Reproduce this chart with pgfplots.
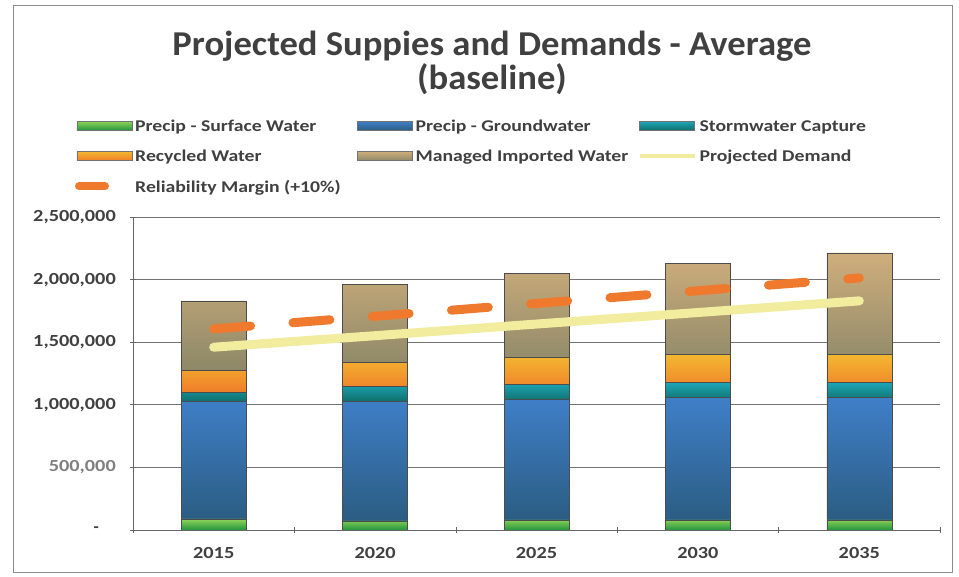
\documentclass[border=0pt]{standalone}
\usepackage{pgfplots}
\pgfplotsset{compat=1.18}
\usepackage{fontspec}
\setmainfont{Carlito}

\definecolor{txt}{HTML}{404040}
\definecolor{grnT}{HTML}{8FD35A}\definecolor{grnB}{HTML}{22953C}
\definecolor{bluT}{HTML}{3F7FC8}\definecolor{bluB}{HTML}{2B5D82}
\definecolor{tealT}{HTML}{1EA6B8}\definecolor{tealB}{HTML}{0E6E6A}
\definecolor{orgT}{HTML}{F3B830}\definecolor{orgB}{HTML}{EF7D2A}
\definecolor{tanT}{HTML}{CFAE7C}\definecolor{tanB}{HTML}{8C8868}
\definecolor{demand}{HTML}{F1EC9E}
\definecolor{margin}{HTML}{EF7A2E}

\pgfplotsset{
  barleg/.style={legend image code/.code={
    \draw[##1, draw=black!55, line width=0.4bp] (0bp,-4.5bp) rectangle (55bp,4.5bp);}},
}
\newcommand{\legtext}[1]{\makebox[222bp][l]{\strut\scalebox{1.2}[1]{#1}}}
\newcommand{\yl}[1]{\scalebox{1.2}[1]{#1}}

\begin{document}
\begin{tikzpicture}
\path[use as bounding box] (0,0) rectangle (959bp,577bp);
\draw[black!45, line width=0.8bp] (13bp,5bp) rectangle (952bp,572bp);

\node[font=\fontsize{35}{34}\selectfont\bfseries, text=txt, anchor=base]
  at (492bp,521bp) {\scalebox{1.05}[1]{Projected Suppies and Demands - Average}};
\node[font=\fontsize{35}{34}\selectfont\bfseries, text=txt, anchor=base]
  at (492bp,487bp) {\scalebox{1.05}[1]{(baseline)}};

\begin{axis}[
  at={(133bp,47bp)}, anchor=south west,
  scale only axis, width=807bp, height=313bp,
  ybar stacked, bar width=65bp,
  xmin=-0.5, xmax=4.5, ymin=0, ymax=2500000,
  xtick={0,1,2,3,4},
  xticklabels={\yl{2015},\yl{2020},\yl{2025},\yl{2030},\yl{2035}},
  minor xtick={-0.5,0.5,1.5,2.5,3.5,4.5},
  major x tick style={draw=none},
  ytick={0,500000,1000000,1500000,2000000,2500000},
  yticklabels={{-\kern17bp},{\textcolor{black!50}{\yl{500,000}}},{\yl{1,000,000}},{\yl{1,500,000}},{\yl{2,000,000}},{\yl{2,500,000}}},
  scaled y ticks=false,
  tick align=outside,
  major tick length=6bp, minor tick length=6bp,
  tick style={black!60, line width=0.6bp},
  axis lines=left, axis line style={-, black!60, line width=0.6bp},
  ymajorgrids, grid style={black!55, line width=0.6bp},
  ticklabel style={font=\fontsize{17}{20}\selectfont\bfseries, text=txt, inner sep=0pt},
  xticklabel style={yshift=-14bp},
  yticklabel style={xshift=-14bp},
  legend columns=3,
  legend cell align=left,
  legend style={at={(-0.0719,1.315)}, anchor=north west, draw=none, fill=none,
    inner sep=0pt, outer sep=0pt, row sep=15.5bp, column sep=0pt,
    font=\fontsize{16.5}{19}\selectfont\bfseries, text=txt,
    nodes={inner sep=0pt, anchor=west},
    /tikz/every odd column/.append style={column sep=3bp}},
]
\addplot[barleg, draw=black!70, line width=0.6bp, top color=grnT, bottom color=grnB]
  coordinates {(0,88000) (1,72000) (2,80000) (3,80000) (4,80000)};
\addlegendentry{\legtext{Precip - Surface Water}}
\addplot[barleg, draw=black!70, line width=0.6bp, top color=bluT, bottom color=bluB]
  coordinates {(0,936000) (1,952000) (2,960000) (3,976000) (4,976000)};
\addlegendentry{\legtext{Precip - Groundwater}}
\addplot[barleg, draw=black!70, line width=0.6bp, top color=tealT, bottom color=tealB]
  coordinates {(0,73000) (1,121000) (2,120000) (3,124000) (4,124000)};
\addlegendentry{\legtext{Stormwater Capture}}
\addplot[barleg, draw=black!70, line width=0.6bp, top color=orgT, bottom color=orgB]
  coordinates {(0,177000) (1,195000) (2,220000) (3,220000) (4,224000)};
\addlegendentry{\legtext{Recycled Water}}
\addplot[barleg, draw=black!70, line width=0.6bp, top color=tanT, bottom color=tanB]
  coordinates {(0,556000) (1,620000) (2,670000) (3,730000) (4,810000)};
\addlegendentry{\legtext{Managed Imported Water}}
\addlegendimage{legend image code/.code={\draw[demand, line width=4bp] (0bp,0bp) -- (55bp,0bp);}}
\addlegendentry{\legtext{Projected Demand}}
\addlegendimage{legend image code/.code={\path[draw=none] (0bp,0bp) -- (55bp,0bp);
  \draw[margin, line width=8bp, line cap=round] (2bp,0bp) -- (28bp,0bp);}}
\addlegendentry{\legtext{Reliability Margin (+10\%)}}
\end{axis}

\begin{axis}[
  at={(133bp,47bp)}, anchor=south west,
  scale only axis, width=807bp, height=313bp,
  xmin=-0.5, xmax=4.5, ymin=0, ymax=2500000,
  hide axis, clip=false,
]
\addplot[demand, line width=9bp, line cap=round, no marks]
  coordinates {(0,1460000) (1,1552000) (2,1645000) (3,1737000) (4,1830000)};
\addplot[margin, line width=9bp, line cap=round, no marks, dash pattern=on 37bp off 42.5bp]
  coordinates {(0,1606000) (1,1707200) (2,1809500) (3,1910700) (4,2013000)};
\end{axis}
\end{tikzpicture}
\end{document}
